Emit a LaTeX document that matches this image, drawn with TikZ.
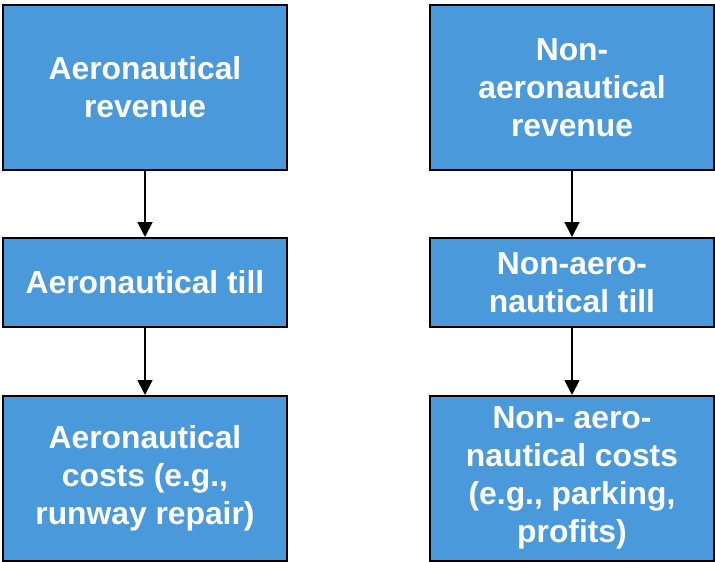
\documentclass[tikz,border=0pt]{standalone}
\usepackage{fontspec}
\setmainfont{Liberation Sans}
\usetikzlibrary{arrows.meta}
\definecolor{boxblue}{RGB}{74,154,219}
\begin{document}
\begin{tikzpicture}[x=1pt,y=-1pt,
  tillbox/.style={draw=black, line width=1.6pt, fill=boxblue, text=white,
    font=\fontsize{31.8}{38}\selectfont\bfseries, align=center,
    minimum width=284pt, inner sep=0pt, anchor=north},
  flow/.style={draw=black, line width=1.8pt,
    -{Triangle[width=15pt,length=15pt]}}]
\useasboundingbox (0,0) rectangle (715,562);
% left column: aeronautical
\node[tillbox, minimum height=165pt] (ar) at (145,4) {Aeronautical\\revenue};
\node[tillbox, minimum height=89pt] (at) at (145,237) {Aeronautical till};
\node[tillbox, minimum height=165pt] (ac) at (145,395) {Aeronautical\\costs (e.g.,\\runway repair)};
% right column: non-aeronautical
\node[tillbox, minimum height=165pt] (nr) at (572,4) {Non-\\aeronautical\\revenue};
\node[tillbox, minimum height=89pt] (nt) at (572,237) {Non-aero-\\nautical till};
\node[tillbox, minimum height=165pt] (nc) at (572,395) {Non- aero-\\nautical costs\\(e.g., parking,\\profits)};
% connectors
\draw[flow] (ar) -- (at);
\draw[flow] (at) -- (ac);
\draw[flow] (nr) -- (nt);
\draw[flow] (nt) -- (nc);
\end{tikzpicture}
\end{document}
